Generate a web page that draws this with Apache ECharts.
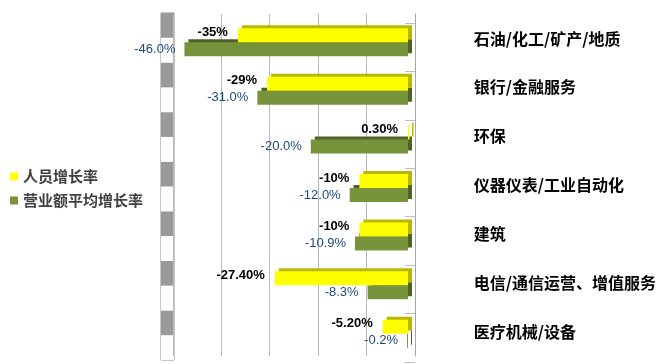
<!DOCTYPE html>
<html><head><meta charset="utf-8">
<script src="https://cdn.jsdelivr.net/npm/echarts@6/dist/echarts.min.js"></script>
<style>html,body{margin:0;padding:0;background:#fff}#c{width:659px;height:364px}</style>
</head><body><div id="c"></div>
<script>
const categories = ['石油/化工/矿产/地质','银行/金融服务','环保','仪器仪表/工业自动化','建筑','电信/通信运营、增值服务','医疗机械/设备'];
const staffGrowth = [-35, -29, 0.3, -10, -10, -27.4, -5.2];
const staffLabels = ['-35%','-29%','0.30%','-10%','-10%','-27.40%','-5.20%'];
const revenueGrowth = [-46.0, -31.0, -20.0, -12.0, -10.9, -8.3, -0.2];
const seriesNames = ['人员增长率','营业额平均增长率'];
const wallBands = Array.from({length:14}, (_, i) => String(i));

const chart = echarts.init(document.getElementById('c'));
const cjk = '"Noto Sans CJK SC", sans-serif';
chart.setOption({
  animation: false,
  backgroundColor: '#fff',
  legend: {
    data: seriesNames, orient: 'vertical', left: 5, top: 164,
    itemWidth: 8, itemHeight: 8, itemGap: 9, icon: 'rect',
    textStyle: { fontFamily: cjk, fontSize: 15, color: '#404040', fontWeight: 'bold' }
  },
  grid: [
    { left: 165, right: 251, top: 18, bottom: 6 },      // front (bars)
    { left: 173, right: 244, top: 14, bottom: 8 },      // back wall
    { left: 173, right: 244, top: 23, bottom: 2 },      // tick marks
    { left: 161, width: 13, top: 13, bottom: 4, show: true, borderColor: '#8c8c8c', borderWidth: 1 } // side wall
  ],
  xAxis: [
    { gridIndex: 0, type: 'value', min: -50, max: 0, interval: 10, show: false },
    { gridIndex: 1, type: 'value', min: -50, max: 0, interval: 10,
      axisLine: { show: false }, axisTick: { show: false }, axisLabel: { show: false },
      splitLine: { show: true, lineStyle: { color: '#b8b8b8', width: 1 } } },
    { gridIndex: 2, type: 'value', min: -50, max: 0, show: false },
    { gridIndex: 3, type: 'value', min: 0, max: 1, show: false }
  ],
  yAxis: [
    { gridIndex: 0, type: 'category', data: categories, inverse: true, show: false },
    { gridIndex: 1, type: 'category', data: categories, inverse: true, position: 'right', offset: 47,
      axisLine: { show: true, lineStyle: { color: '#a6a6a6', width: 1 } },
      axisTick: { show: false },
      axisLabel: { margin: 12, fontFamily: cjk, fontSize: 16, color: '#000', fontWeight: 'bold' } },
    { gridIndex: 2, type: 'category', data: categories, inverse: true, position: 'right',
      axisLine: { show: false }, axisLabel: { show: false },
      axisTick: { show: true, inside: true, length: 10, lineStyle: { color: '#c0c0c0' } } },
    { gridIndex: 3, type: 'category', data: wallBands, show: true,
      axisLine: { show: false }, axisTick: { show: false }, axisLabel: { show: false },
      splitArea: { show: true, areaStyle: { color: ['#ffffff', '#9a9a9a'] } } }
  ],
  series: [
    {
      name: seriesNames[0], type: 'bar', xAxisIndex: 0, yAxisIndex: 0, z: 4,
      data: staffGrowth, barWidth: 14, barGap: '0%', clip: false,
      itemStyle: { color: '#ffff00', shadowColor: '#b8b800', shadowBlur: 0, shadowOffsetX: 4, shadowOffsetY: -3 },
      label: { show: true, position: 'left', distance: 10, offset: [0, -3],
        formatter: p => staffLabels[p.dataIndex],
        fontFamily: '"Liberation Sans", Arial, sans-serif', fontSize: 13, fontWeight: 'bold', color: '#000' }
    },
    {
      name: seriesNames[1], type: 'bar', xAxisIndex: 0, yAxisIndex: 0, z: 2,
      data: revenueGrowth, barWidth: 14, barGap: '0%', clip: false,
      itemStyle: { color: '#77933c', shadowColor: '#4f6228', shadowBlur: 0, shadowOffsetX: 4, shadowOffsetY: -3 },
      label: { show: true, position: 'left', distance: 9,
        formatter: p => p.value.toFixed(1) + '%',
        fontFamily: '"Liberation Sans", Arial, sans-serif', fontSize: 13, color: '#1f497d' }
    }
  ]
});
</script></body></html>
